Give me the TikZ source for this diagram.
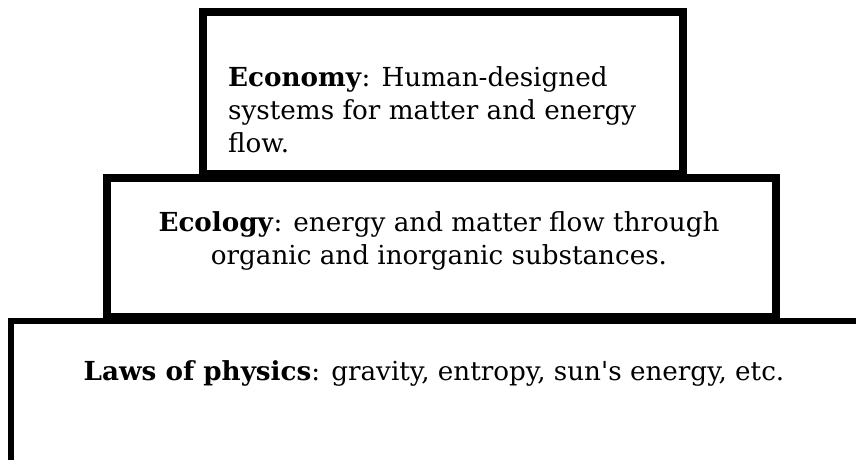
\documentclass[tikz,border=0pt]{standalone}
\usepackage{fontspec}
\setmainfont{DejaVu Serif}

\begin{document}
\begin{tikzpicture}[x=1pt, y=-1pt,
    layer/.style={draw=black, line width=8pt, fill=white},
    label/.style={font=\fontsize{26.2}{33}\selectfont, inner sep=0pt}]

    % Page
    \useasboundingbox (0,0) rectangle (856,460);
    \clip (0,0) rectangle (856,460);

    % Bottom layer (runs off the page)
    \draw[layer, line width=6.5pt] (11,321) rectangle (900,500);

    % Middle layer
    \draw[layer] (107,178) rectangle (776,317);

    % Top layer
    \draw[layer] (203,12) rectangle (683,174);

    % Texts (anchored at the baseline of the last line)
    \node[label, anchor=base west, align=left] (econ) at (228,152)
        {\textbf{Economy}: Human-designed\\systems for matter and energy\\flow.};
    \node[label, anchor=base, align=center] (ecol) at (439,264)
        {\textbf{Ecology}: energy and matter flow through\\organic and inorganic substances.};
    \node[label, anchor=base] (phys) at (434,380)
        {\textbf{Laws of physics}: gravity, entropy, sun\textquotesingle s energy, etc.};

\end{tikzpicture}
\end{document}
